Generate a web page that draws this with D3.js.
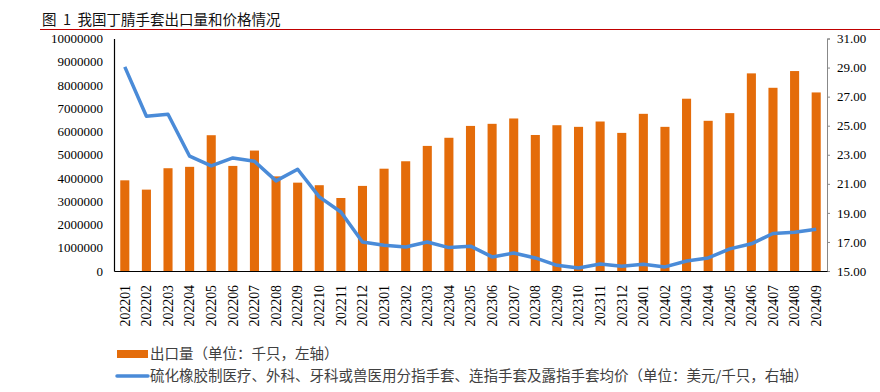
<!DOCTYPE html>
<html>
<head>
<meta charset="utf-8">
<script src="https://cdn.jsdelivr.net/npm/d3@7"></script>
<style>
  body { margin: 0; background: #fff; }
</style>
</head>
<body>
<div id="chart"></div>
<script>
// data
var months = ['202201','202202','202203','202204','202205','202206','202207','202208','202209','202210','202211','202212',
              '202301','202302','202303','202304','202305','202306','202307','202308','202309','202310','202311','202312',
              '202401','202402','202403','202404','202405','202406','202407','202408','202409'];
var exportVolume = [3900000,3500000,4420000,4480000,5840000,4520000,5180000,4070000,3800000,3690000,3140000,3660000,
                    4400000,4720000,5380000,5730000,6240000,6330000,6560000,5850000,6270000,6200000,6430000,5940000,
                    6760000,6200000,7410000,6460000,6790000,8500000,7880000,8600000,7680000];
var avgPrice = [29.05,25.65,25.79,22.90,22.23,22.78,22.55,21.20,22.00,20.10,19.06,17.00,
                16.77,16.65,17.00,16.61,16.71,15.97,16.24,15.90,15.39,15.20,15.48,15.32,
                15.46,15.28,15.69,15.90,16.52,16.87,17.58,17.67,17.88];
var leftTicks = [0,1000000,2000000,3000000,4000000,5000000,6000000,7000000,8000000,9000000,10000000];
var rightTicks = [15,17,19,21,23,25,27,29,31];
var title = '图  1  我国丁腈手套出口量和价格情况';
var legendBar = '出口量（单位：千只，左轴）';
var legendLine = '硫化橡胶制医疗、外科、牙科或兽医用分指手套、连指手套及露指手套均价（单位：美元/千只，右轴）';

var W = 880, H = 392;
var plotLeft = 114, plotRight = 827, plotTop = 38.5, plotBottom = 271;
var serif = '"Liberation Serif", "Times New Roman", serif';
var cjk = '"Noto Sans CJK SC", sans-serif';

var svg = d3.select('#chart').append('svg')
  .attr('width', W).attr('height', H);

// title + red rule
svg.append('text')
  .attr('x', 42).attr('y', 25)
  .style('font-family', cjk).style('font-size', '14.5px').style('white-space', 'pre').attr('fill', '#111')
  .text(title);
svg.append('line')
  .attr('x1', 40).attr('x2', W).attr('y1', 29.5).attr('y2', 29.5)
  .attr('stroke', '#c00000').attr('stroke-width', 1);

// scales
var x = d3.scaleBand()
  .domain(months)
  .range([plotLeft, plotRight])
  .paddingInner(0.58)
  .paddingOuter(0.29);
var yL = d3.scaleLinear().domain([0, 10000000]).range([plotBottom, plotTop]);
var yR = d3.scaleLinear().domain([15, 31]).range([plotBottom, plotTop]);

// bars
svg.selectAll('.bar')
  .data(exportVolume)
  .enter()
  .append('rect')
    .attr('class', 'bar')
    .attr('x', function(d, i) { return x(months[i]); })
    .attr('width', x.bandwidth())
    .attr('y', function(d) { return yL(d); })
    .attr('height', function(d) { return plotBottom - yL(d); })
    .attr('fill', '#e46c0a');

// left axis
var gL = svg.append('g')
  .attr('transform', 'translate(' + plotLeft + ',0)')
  .call(d3.axisLeft(yL).tickValues(leftTicks).tickFormat(d3.format('d')).tickSize(0).tickPadding(11));
gL.select('.domain').attr('stroke', '#000').attr('stroke-width', 1.2);
gL.selectAll('text').style('font-family', serif).style('font-size', '13px').attr('fill', '#000');

// right axis
var gR = svg.append('g')
  .attr('transform', 'translate(' + plotRight + ',0)')
  .call(d3.axisRight(yR).tickValues(rightTicks).tickFormat(d3.format('.2f')).tickSize(3).tickPadding(7));
gR.select('.domain').attr('stroke', '#888');
gR.selectAll('line').attr('stroke', '#888');
gR.selectAll('text').style('font-family', serif).style('font-size', '13px').attr('fill', '#000');

// bottom axis
var gB = svg.append('g')
  .attr('transform', 'translate(0,' + plotBottom + ')')
  .call(d3.axisBottom(x).tickSize(0).tickPadding(0));
gB.select('.domain').attr('stroke', '#000').attr('stroke-width', 1.2);
gB.selectAll('text')
  .style('font-family', serif).style('font-size', '13.8px').attr('fill', '#000')
  .attr('transform', 'translate(0,14)rotate(-90)')
  .attr('dy', '0.35em')
  .attr('y', 0)
  .style('text-anchor', 'end');

// price line
var line = d3.line()
  .x(function(d, i) { return x(months[i]) + x.bandwidth() / 2; })
  .y(function(d) { return yR(d); });
svg.append('path')
  .datum(avgPrice)
  .attr('d', line)
  .attr('fill', 'none')
  .attr('stroke', '#4a8bd8')
  .attr('stroke-width', 3.5)
  .attr('stroke-linejoin', 'round');

// legend
var lg = svg.append('g');
lg.append('rect')
  .attr('x', 117).attr('y', 350).attr('width', 31).attr('height', 8)
  .attr('fill', '#e46c0a');
lg.append('text')
  .attr('x', 150).attr('y', 354).attr('dy', '0.35em')
  .style('font-family', cjk).style('font-size', '14.5px').attr('fill', '#404040')
  .text(legendBar);
lg.append('line')
  .attr('x1', 117).attr('x2', 148).attr('y1', 376).attr('y2', 376)
  .attr('stroke', '#4a8bd8').attr('stroke-width', 3.5).attr('stroke-linecap', 'round');
lg.append('text')
  .attr('x', 150).attr('y', 376).attr('dy', '0.35em')
  .style('font-family', cjk).style('font-size', '14.5px').attr('fill', '#404040')
  .text(legendLine);
</script>
</body>
</html>
